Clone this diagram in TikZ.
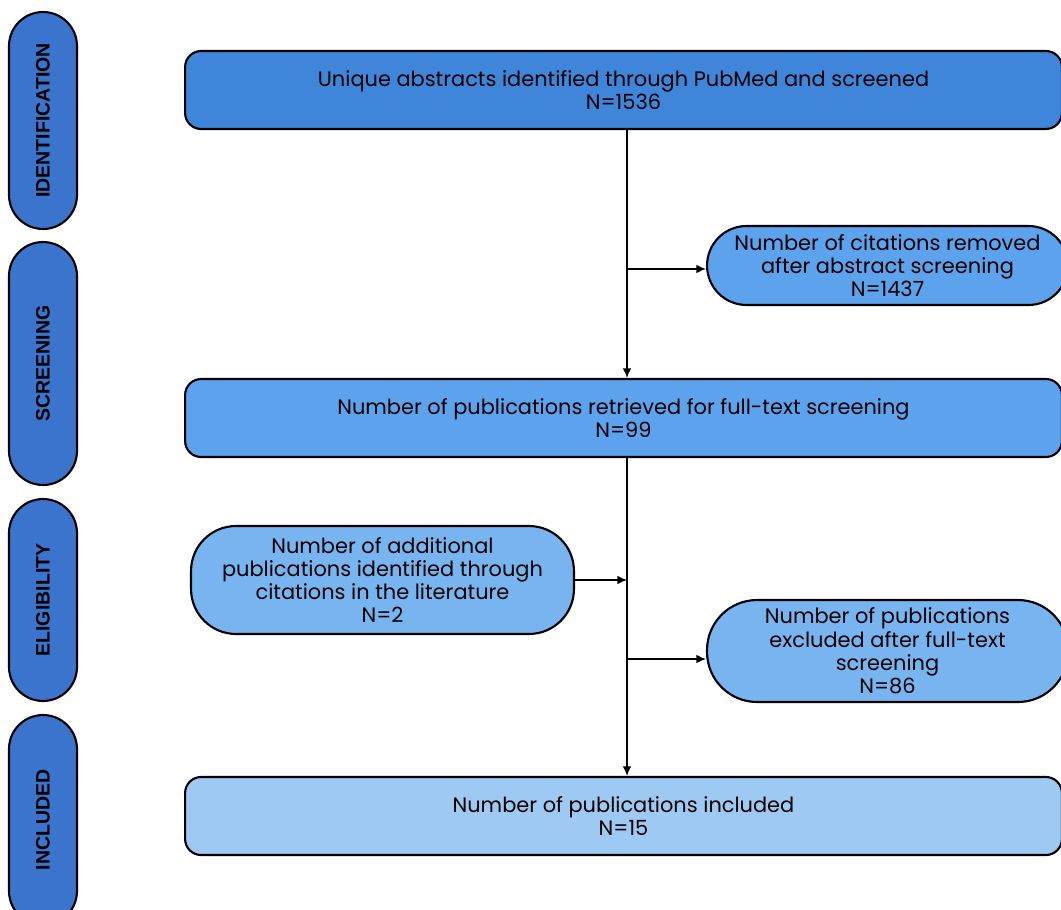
\documentclass[tikz,border=0pt]{standalone}
\usepackage{fontspec}
\setmainfont{Poppins}
\newfontfamily\stagefont{Liberation Sans}
\usepackage{xcolor}
\usetikzlibrary{arrows,arrows.meta,calc,positioning}

\definecolor{stageblue}{HTML}{3A74CD}
\definecolor{boxone}{HTML}{3F86DA}
\definecolor{boxtwo}{HTML}{5DA2EC}
\definecolor{boxthree}{HTML}{78B5F0}
\definecolor{boxfour}{HTML}{9DC9F3}

\begin{document}
\begin{tikzpicture}[>={Latex[length=5.5pt,width=5pt]}, x=0.02cm, y=-0.02cm,
    stage/.style={draw, line width=1.2pt, fill=stageblue, rotate=90,
      minimum height=1.36cm, rounded corners=0.68cm, inner sep=0pt,
      font=\stagefont\bfseries\fontsize{11.1}{13}\selectfont},
    box/.style={draw, line width=1.2pt, rounded corners=0.32cm, align=center,
      minimum height=1.56cm, inner sep=2pt,
      font=\fontsize{11.9}{13.2}\selectfont},
    flow/.style={->, line width=0.85pt}]
    \useasboundingbox (0,0) rectangle (1061,909);
    \clip (0,0) rectangle (1061,909);
    % ---- stage labels on the left
    \node[stage, minimum width=4.34cm] (ident) at (43,120.5) {IDENTIFICATION};
    \node[stage, minimum width=4.86cm] (screen) at (43,363.5) {SCREENING};
    \node[stage, minimum width=4.04cm] (elig) at (43,600) {ELIGIBILITY};
    \node[stage, minimum width=4.2cm] (incl) at (43,820) {INCLUDED};
    % ---- the main boxes
    \node[box, fill=boxone, minimum width=17.54cm] (found) at (623.5,90)
      {Unique abstracts identified through PubMed and screened\\N=1536};
    \node[box, fill=boxtwo, minimum width=7.22cm, minimum height=1.58cm,
      rounded corners=0.79cm] (removed) at (887.5,265.5)
      {Number of citations removed\\after abstract screening\\N=1437};
    \node[box, fill=boxtwo, minimum width=17.54cm] (fulltext) at (623.5,418)
      {Number of publications retrieved for full-text screening\\N=99};
    \node[box, fill=boxthree, minimum width=7.66cm, minimum height=2.16cm,
      rounded corners=0.9cm] (extra) at (382.5,580)
      {Number of additional\\publications identified through\\citations in the literature\\N=2};
    \node[box, fill=boxthree, minimum width=7.22cm, minimum height=2.04cm,
      rounded corners=1.0cm] (excluded) at (887.5,651)
      {Number of publications\\excluded after full-text\\screening\\N=86};
    \node[box, fill=boxfour, minimum width=17.54cm] (final) at (623.5,816)
      {Number of publications included\\N=15};
    % ---- the trunk and its branches
    \coordinate (trunk) at (627,0);
    \coordinate (split1) at (627,269);
    \coordinate (split2) at (627,659);
    \draw[flow] (found.south -| trunk) -- (fulltext.north -| trunk);
    \draw[flow] (split1) -- (split1 -| removed.west);
    \draw[flow] (fulltext.south -| trunk) -- (final.north -| trunk);
    \draw[flow] (extra.east) -- (extra.east -| trunk);
    \draw[flow] (split2) -- (split2 -| excluded.west);
  \end{tikzpicture}
\end{document}
